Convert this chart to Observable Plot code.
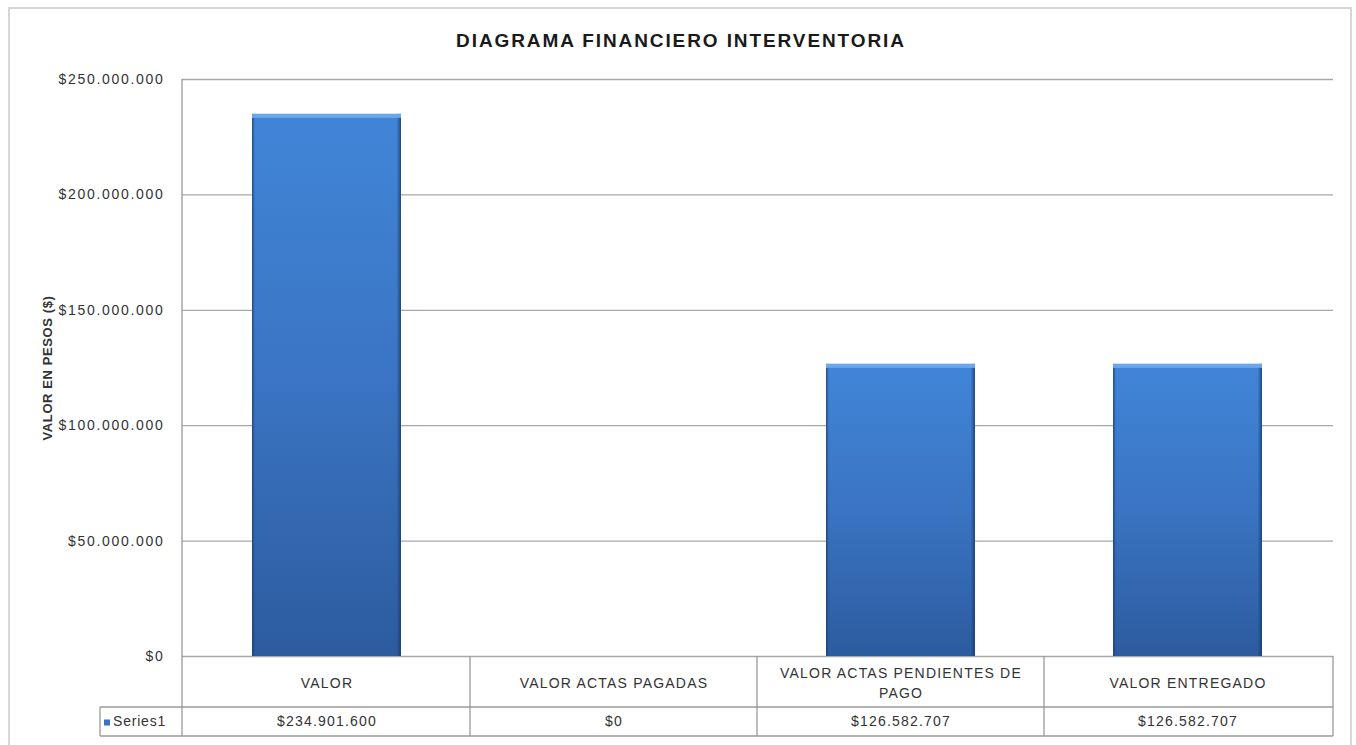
<!DOCTYPE html>
<html>
<head>
<meta charset="utf-8">
<script src="https://cdn.jsdelivr.net/npm/d3@7"></script>
<script src="https://cdn.jsdelivr.net/npm/@observablehq/plot@0.6"></script>
<style>
  html, body { margin: 0; padding: 0; background: #fff; }
  body { width: 1356px; height: 745px; overflow: hidden; position: relative; font-family: "Liberation Sans", Arial, sans-serif; }
  #frame { position: absolute; left: 8px; top: 7px; width: 1344px; height: 760px; border: 2px solid #d6d6d6; box-sizing: border-box; }
  #title { position: absolute; left: 0; top: 30px; width: 1362px; text-align: center; font-weight: bold; font-size: 19px; letter-spacing: 1.9px; color: #1a1a1a; font-family: "Liberation Sans", Arial, sans-serif; }
  #chart { position: absolute; left: 0; top: 0; }
  #chart svg [aria-label="y-axis tick label"] text { letter-spacing: 1.7px; }
  #chart svg [aria-label="y-axis label"] text { font-weight: bold; font-size: 13px; letter-spacing: 0.6px; }
  #chart svg .tbl text { letter-spacing: 1.2px; }
</style>
</head>
<body>
<div id="frame"></div>
<div id="chart"></div>
<div id="title">DIAGRAMA FINANCIERO INTERVENTORIA</div>
<script>
// ---- data ----
const categories = ["VALOR", "VALOR ACTAS PAGADAS", "VALOR ACTAS PENDIENTES DE PAGO", "VALOR ENTREGADO"];
const categoryLabels = ["VALOR", "VALOR ACTAS PAGADAS", "VALOR ACTAS PENDIENTES DE\nPAGO", "VALOR ENTREGADO"];
const values = [234901600, 0, 126582707, 126582707];
const seriesName = "Series1";
const yTicks = [0, 50000000, 100000000, 150000000, 200000000, 250000000];
const yLabel = "VALOR EN PESOS ($)";

const data = categories.map((c, i) => ({cat: c, label: categoryLabels[i], value: values[i]}));

const loc = d3.formatLocale({decimal: ",", thousands: ".", grouping: [3], currency: ["$", ""]});
const fmt = loc.format("$,");

const W = 1356, H = 745;
const mL = 182, mR = 23, mT = 79, mB = 89;
const row1 = 51, row2 = 80, legendW = 82;
const gridColor = "#a8a8a8";
const lineColor = "#9a9a9a";

function defs() {
  const ns = "http://www.w3.org/2000/svg";
  const d = document.createElementNS(ns, "defs");
  d.innerHTML = `
    <linearGradient id="barGrad" x1="0" y1="0" x2="0" y2="1">
      <stop offset="0" stop-color="#4185d8"/>
      <stop offset="0.5" stop-color="#3a74c2"/>
      <stop offset="1" stop-color="#2c5b9f"/>
    </linearGradient>
    <linearGradient id="edgeGrad" x1="0" y1="0" x2="1" y2="0">
      <stop offset="0" stop-color="#173a6e" stop-opacity="0.75"/>
      <stop offset="0.02" stop-color="#173a6e" stop-opacity="0"/>
      <stop offset="0.97" stop-color="#173a6e" stop-opacity="0"/>
      <stop offset="1" stop-color="#173a6e" stop-opacity="0.8"/>
    </linearGradient>`;
  return d;
}

function tableMark(index, scales, vals, dims) {
  const ns = "http://www.w3.org/2000/svg";
  const g = document.createElementNS(ns, "g");
  const x = scales.x;
  const bw = typeof x.bandwidth === "function" ? x.bandwidth() : x.bandwidth;
  const left = dims.marginLeft, right = dims.width - dims.marginRight;
  const top = dims.marginTop, base = dims.height - dims.marginBottom;
  const centers = categories.map(c => x(c) + bw / 2);
  const bounds = [left];
  for (let i = 1; i < centers.length; i++) bounds.push((centers[i - 1] + centers[i]) / 2);
  bounds.push(right);
  const yA = base + row1, yB = base + row2, lx = left - legendW;
  const line = (x1, y1, x2, y2) => {
    const l = document.createElementNS(ns, "line");
    l.setAttribute("x1", x1); l.setAttribute("y1", y1);
    l.setAttribute("x2", x2); l.setAttribute("y2", y2);
    l.setAttribute("stroke", lineColor); l.setAttribute("stroke-width", 1.3);
    g.appendChild(l);
  };
  line(left, top, left, yB);
  bounds.slice(1).forEach(b => line(b, base, b, yB));
  line(lx, yA, right, yA);
  line(lx, yB, right, yB);
  line(lx, yA, lx, yB);
  const sq = document.createElementNS(ns, "rect");
  sq.setAttribute("x", lx + 4); sq.setAttribute("y", (yA + yB) / 2 - 2);
  sq.setAttribute("width", 6); sq.setAttribute("height", 6);
  sq.setAttribute("fill", "#3a74c2");
  g.appendChild(sq);
  const t = document.createElementNS(ns, "text");
  t.setAttribute("x", lx + 13); t.setAttribute("y", (yA + yB) / 2);
  t.setAttribute("dy", "0.35em");
  t.setAttribute("text-anchor", "start");
  t.setAttribute("font-size", 14);
  t.setAttribute("letter-spacing", "0.8px");
  t.setAttribute("fill", "#333");
  t.textContent = seriesName;
  g.appendChild(t);
  return g;
}

const chart = Plot.plot({
  width: W, height: H,
  marginLeft: mL, marginRight: mR, marginTop: mT, marginBottom: mB,
  style: {fontFamily: "Liberation Sans, Arial, sans-serif", fontSize: "14px", color: "#333", background: "transparent"},
  x: {domain: categories, paddingInner: 0.48, paddingOuter: 0.24, axis: null},
  y: {domain: [0, 250000000]},
  marks: [
    defs,
    Plot.gridY(yTicks, {stroke: gridColor, strokeOpacity: 1, strokeWidth: 1.3}),
    Plot.axisY(yTicks, {tickSize: 0, tickPadding: 18, tickFormat: fmt, label: yLabel, labelAnchor: "center", labelOffset: 140, labelArrow: "none"}),
    Plot.barY(data, {x: "cat", y: "value", fill: "url(#barGrad)"}),
    Plot.barY(data, {x: "cat", y: "value", fill: "url(#edgeGrad)"}),
    Plot.barY(data.filter(d => d.value > 0), {x: "cat", y1: "value", y2: "value", insetBottom: -4, fill: "#6aa8ee"}),
    tableMark,
    Plot.text(data, {x: "cat", text: "label", frameAnchor: "bottom", dy: 25, lineAnchor: "middle", fontSize: 14, fill: "#333", lineHeight: 1.4, className: "tbl"}),
    Plot.text(data, {x: "cat", text: d => fmt(d.value), frameAnchor: "bottom", dy: 65, lineAnchor: "middle", fontSize: 14, fill: "#333", className: "tbl"})
  ]
});
document.getElementById("chart").appendChild(chart);
</script>
</body>
</html>
